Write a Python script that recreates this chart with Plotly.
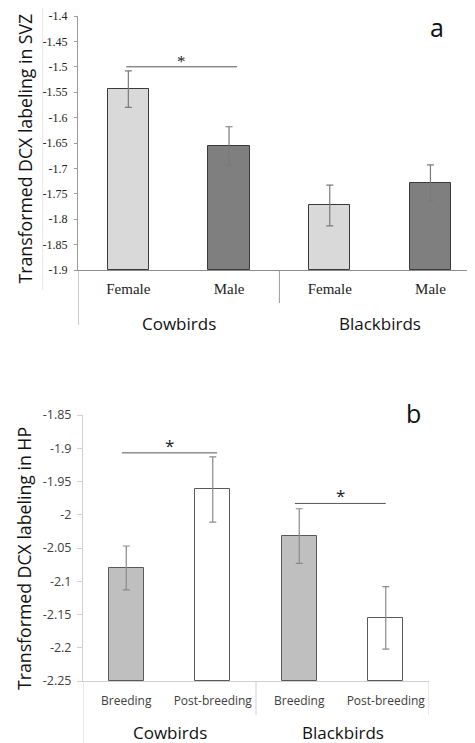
import plotly.graph_objects as go

# ---------------- data ----------------
groups = ["Cowbirds", "Blackbirds"]

a_labels = ["Female", "Male", "Female", "Male"]
a_values = [-1.544, -1.656, -1.773, -1.729]
a_errors = [0.036, 0.038, 0.040, 0.036]
a_colors = ["#d9d9d9", "#7f7f7f", "#d9d9d9", "#7f7f7f"]
a_ticks = [-1.9, -1.85, -1.8, -1.75, -1.7, -1.65, -1.6, -1.55, -1.5, -1.45, -1.4]
a_ticktext = ["-1.9", "-1.85", "-1.8", "-1.75", "-1.7", "-1.65", "-1.6", "-1.55", "-1.5", "-1.45", "-1.4"]
a_base = -1.9

b_labels = ["Breeding", "Post-breeding", "Breeding", "Post-breeding"]
b_values = [-2.080, -1.962, -2.032, -2.155]
b_errors = [0.033, 0.049, 0.041, 0.047]
b_colors = ["#bfbfbf", "#ffffff", "#bfbfbf", "#ffffff"]
b_ticks = [-2.25, -2.2, -2.15, -2.1, -2.05, -2.0, -1.95, -1.9, -1.85]
b_ticktext = ["-2.25", "-2.2", "-2.15", "-2.1", "-2.05", "-2", "-1.95", "-1.9", "-1.85"]
b_base = -2.25

# significance brackets: (from category, to category, y level)
a_sig = [(-0.02, 1.08, -1.500)]
b_sig = [(-0.05, 1.05, -1.907), (1.95, 3.0, -1.983)]

# page has an 8px body margin; the figure is offset by it
OFF = 8
VW, VH = 475, 743
W, H = VW - OFF, VH - OFF
SANS = "Open Sans"
SERIF = "Liberation Serif"

def px_x(p):
    return (p - OFF) / W

def px_y(p):
    return 1 - (p - OFF) / H

xs = [0, 1, 2, 3]

fig = go.Figure()

fig.add_trace(go.Bar(
    x=xs, y=[v - a_base for v in a_values], base=a_base,
    width=0.41, marker=dict(color=a_colors, line=dict(color="#3a3a3a", width=1)),
    error_y=dict(type="data", array=a_errors, color="#7a7a7a", thickness=1.2, width=3.5),
    xaxis="x", yaxis="y", showlegend=False, hoverinfo="skip"))

fig.add_trace(go.Bar(
    x=xs, y=[v - b_base for v in b_values], base=b_base,
    width=0.4, marker=dict(color=b_colors, line=dict(color="#595959", width=1)),
    error_y=dict(type="data", array=b_errors, color="#8a8a8a", thickness=1.2, width=3.5),
    xaxis="x2", yaxis="y2", showlegend=False, hoverinfo="skip"))

# panel a geometry: plot x 78..(481), y 16..270
a_x0, a_cat = 78, 100.7
a_right = (VW - a_x0) / a_cat - 0.5
fig.update_layout(
    xaxis=dict(domain=[px_x(a_x0), 1], range=[-0.5, a_right], tickvals=xs, ticktext=a_labels,
               showline=True, linecolor="#8c8c8c", linewidth=1, ticks="", showgrid=False,
               zeroline=False, tickfont=dict(family=SERIF, size=15, color="#222"),
               ticklabelstandoff=5, anchor="y", automargin=False),
    yaxis=dict(domain=[px_y(270), px_y(16)], range=[a_base, -1.4], tickvals=a_ticks,
               ticktext=a_ticktext, showline=True, linecolor="#9a9a9a", linewidth=1,
               ticks="outside", ticklen=3, tickcolor="#9a9a9a", showgrid=False, zeroline=False,
               tickfont=dict(family=SERIF, size=12, color="#222"), ticklabelstandoff=4,
               anchor="x", automargin=False),
    xaxis2=dict(domain=[px_x(83), px_x(429)], range=[-0.5, 3.5], tickvals=xs, ticktext=b_labels,
                showline=True, linecolor="#d0d0d0", linewidth=1, ticks="", showgrid=False,
                zeroline=False, tickfont=dict(family=SANS, size=12, color="#404040"),
                ticklabelstandoff=9, anchor="y2", automargin=False),
    yaxis2=dict(domain=[px_y(681), px_y(415)], range=[b_base, -1.85], tickvals=b_ticks,
                ticktext=b_ticktext, showline=True, linecolor="#d0d0d0", linewidth=1,
                ticks="outside", ticklen=5, tickcolor="#d0d0d0", showgrid=False, zeroline=False,
                tickfont=dict(family=SANS, size=12.5, color="#404040"), ticklabelstandoff=3,
                anchor="x2", automargin=False),
    width=W, height=H, margin=dict(l=0, r=0, t=0, b=0, autoexpand=False),
    plot_bgcolor="white", paper_bgcolor="white", bargap=0,
)

shapes = []
annotations = []

# panel a extra axis lines
shapes.append(dict(type="line", xref="x", yref="paper", x0=-0.5, x1=-0.5,
                   y0=px_y(270), y1=px_y(325), line=dict(color="#9a9a9a", width=1)))
shapes.append(dict(type="line", xref="x", yref="paper", x0=1.5, x1=1.5,
                   y0=px_y(270), y1=px_y(303), line=dict(color="#9a9a9a", width=1)))
shapes.append(dict(type="line", xref="paper", yref="paper", x0=px_x(42.7), x1=px_x(42.7),
                   y0=px_y(8), y1=px_y(290), line=dict(color="#e6e6e6", width=1)))
# panel b extra axis lines
shapes.append(dict(type="line", xref="x2", yref="paper", x0=-0.5, x1=-0.5,
                   y0=px_y(681), y1=px_y(743), line=dict(color="#d0d0d0", width=1)))
for xv in (1.5, 3.5):
    shapes.append(dict(type="line", xref="x2", yref="paper", x0=xv, x1=xv,
                       y0=px_y(681), y1=px_y(715), line=dict(color="#d0d0d0", width=1)))

# significance brackets
for x0, x1, yv in a_sig:
    shapes.append(dict(type="line", xref="x", yref="y", x0=x0, x1=x1, y0=yv, y1=yv,
                       line=dict(color="#555", width=1)))
    annotations.append(dict(xref="x", yref="y", x=(x0 + x1) / 2, y=yv, text="*",
                            showarrow=False, yanchor="bottom", yshift=-6,
                            font=dict(family=SERIF, size=17, color="#222")))
for x0, x1, yv in b_sig:
    shapes.append(dict(type="line", xref="x2", yref="y2", x0=x0, x1=x1, y0=yv, y1=yv,
                       line=dict(color="#555", width=1)))
    annotations.append(dict(xref="x2", yref="y2", x=(x0 + x1) / 2, y=yv, text="*",
                            showarrow=False, yanchor="bottom", yshift=-6,
                            font=dict(family=SANS, size=17, color="#222")))

# group labels
for i, g in enumerate(groups):
    annotations.append(dict(xref="x", yref="paper", x=0.5 + 2 * i, y=px_y(323), text=g,
                            showarrow=False, xanchor="center", yanchor="middle",
                            font=dict(family=SANS, size=17, color="#111")))
    annotations.append(dict(xref="x2", yref="paper", x=0.5 + 2 * i, y=px_y(732), text=g,
                            showarrow=False, xanchor="center", yanchor="middle",
                            font=dict(family=SANS, size=17, color="#111")))

# y titles
annotations.append(dict(xref="paper", yref="paper", x=px_x(24), y=px_y(148.5),
                        xanchor="center", yanchor="middle",
                        text="Transformed DCX labeling in SVZ", textangle=-90, showarrow=False,
                        font=dict(family=SANS, size=17.7, color="#111")))
annotations.append(dict(xref="paper", yref="paper", x=px_x(24), y=px_y(559),
                        xanchor="center", yanchor="middle",
                        text="Transformed DCX labeling in HP", textangle=-90, showarrow=False,
                        font=dict(family=SANS, size=17.7, color="#111")))

# panel letters
annotations.append(dict(xref="paper", yref="paper", x=px_x(437), y=px_y(27), text="a",
                        xanchor="center", yanchor="middle",
                        showarrow=False, font=dict(family=SANS, size=25, color="#111")))
annotations.append(dict(xref="paper", yref="paper", x=px_x(413), y=px_y(413), text="b",
                        xanchor="center", yanchor="middle",
                        showarrow=False, font=dict(family=SANS, size=25, color="#111")))

fig.update_layout(shapes=shapes, annotations=annotations)
fig.write_html("out.html")
